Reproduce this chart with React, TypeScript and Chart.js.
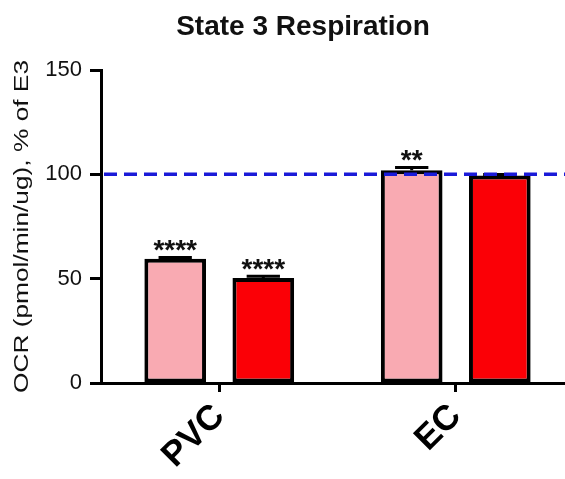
import React, { useEffect, useRef } from "react";
import { Chart, registerables } from "chart.js";

Chart.register(...registerables);

const chartTitle = "State 3 Respiration";
const yAxisTitle = "OCR (pmol/min/ug), % of E3";
const categories = ["PVC", "EC"];
const seriesNames = ["Light", "Dark"];
const lightValues = [59.6, 102];
const darkValues = [50.3, 99.5];
const lightErrors = [0.6, 1.3];
const darkErrors = [0.9, 0.4];
const lightStars = ["****", "**"];
const darkStars = ["****", ""];
const referenceValue = 100;
const yMin = 0;
const yMax = 150;
const yStep = 50;

const errors = [lightErrors, darkErrors];
const stars = [lightStars, darkStars];

const FONT = "'Liberation Sans', Arial, Helvetica, sans-serif";

const overlayPlugin = {
  id: "overlay",
  afterDatasetsDraw(chart: any) {
    const ctx = chart.ctx;
    const yScale = chart.scales.y;
    const area = chart.chartArea;
    chart.data.datasets.forEach((ds: any, di: number) => {
      const meta = chart.getDatasetMeta(di);
      meta.data.forEach((bar: any, i: number) => {
        const v = ds.data[i];
        const e = errors[di][i];
        const yTop = yScale.getPixelForValue(v + e);
        const yVal = yScale.getPixelForValue(v);
        const capHalf = bar.width * 0.27;
        ctx.save();
        ctx.strokeStyle = "#000";
        ctx.lineWidth = 3;
        ctx.beginPath();
        ctx.moveTo(bar.x, yVal);
        ctx.lineTo(bar.x, yTop);
        ctx.moveTo(bar.x - capHalf, yTop);
        ctx.lineTo(bar.x + capHalf, yTop);
        ctx.stroke();
        const s = stars[di][i];
        if (s) {
          ctx.fillStyle = "#111";
          ctx.font = `bold 28px ${FONT}`;
          ctx.textAlign = "center";
          ctx.textBaseline = "alphabetic";
          ctx.fillText(s, bar.x, yTop + 2);
        }
        ctx.restore();
      });
    });
    const yRef = yScale.getPixelForValue(referenceValue);
    ctx.save();
    ctx.strokeStyle = "#1a1ad8";
    ctx.lineWidth = 3.5;
    ctx.setLineDash([13, 7]);
    ctx.beginPath();
    ctx.moveTo(area.left + 3, yRef);
    ctx.lineTo(area.right, yRef);
    ctx.stroke();
    ctx.restore();
  },
  afterDraw(chart: any) {
    const ctx = chart.ctx;
    const area = chart.chartArea;
    const yScale = chart.scales.y;
    ctx.save();
    ctx.fillStyle = "#111";
    ctx.font = `bold 28px ${FONT}`;
    ctx.textAlign = "center";
    ctx.textBaseline = "alphabetic";
    ctx.fillText(chartTitle, 303, 35);
    ctx.restore();

    const yc = (area.top + area.bottom) / 2;
    ctx.save();
    ctx.fillStyle = "#111";
    ctx.font = `21px ${FONT}`;
    const w = ctx.measureText(yAxisTitle).width;
    const targetLen = 333;
    ctx.translate(yScale.left + 28, yc);
    ctx.rotate(-Math.PI / 2);
    ctx.scale(targetLen / w, 1);
    ctx.textAlign = "center";
    ctx.textBaseline = "alphabetic";
    ctx.fillText(yAxisTitle, 0, 0);
    ctx.restore();
  },
};

export default function App() {
  const ref = useRef<HTMLCanvasElement>(null);
  useEffect(() => {
    if (!ref.current) return;
    const chart = new Chart(ref.current, {
      type: "bar",
      data: {
        labels: categories,
        datasets: [
          {
            label: seriesNames[0],
            data: lightValues,
            backgroundColor: "#f9aab2",
            borderColor: "#000",
            borderWidth: 4,
            borderSkipped: false,
          },
          {
            label: seriesNames[1],
            data: darkValues,
            backgroundColor: "#fb0006",
            borderColor: "#000",
            borderWidth: 4,
            borderSkipped: false,
          },
        ],
      },
      options: {
        animation: false,
        responsive: true,
        maintainAspectRatio: false,
        datasets: { bar: { categoryPercentage: 0.745, barPercentage: 0.7 } },
        layout: { padding: { top: 70, left: 0, right: 0, bottom: 0 } },
        plugins: {
          legend: { display: false },
          title: { display: false },
          tooltip: { enabled: false },
        },
        scales: {
          x: {
            afterFit: (s: any) => {
              s.height = 96;
            },
            border: { width: 3, color: "#000" },
            grid: {
              offset: false,
              drawOnChartArea: false,
              tickLength: 9,
              tickWidth: 3,
              tickColor: "#000",
            },
            ticks: {
              minRotation: 45,
              maxRotation: 45,
              padding: 4,
              color: "#000",
              font: { family: FONT, size: 35, weight: "bold" },
            },
          },
          y: {
            min: yMin,
            max: yMax,
            afterFit: (s: any) => {
              s.width = 101;
            },
            border: { width: 3, color: "#000" },
            grid: {
              drawOnChartArea: false,
              tickLength: 11,
              tickWidth: 3,
              tickColor: "#000",
            },
            ticks: {
              stepSize: yStep,
              padding: 8,
              color: "#111",
              font: { family: FONT, size: 22 },
            },
          },
        },
      },
      plugins: [overlayPlugin],
    });
    return () => chart.destroy();
  }, []);
  return (
    <div style={{ position: "fixed", left: 0, top: 0, width: 565, height: 479, overflow: "hidden", background: "#fff" }}>
      <div style={{ position: "relative", width: 574, height: 479 }}>
        <canvas ref={ref} />
      </div>
    </div>
  );
}
